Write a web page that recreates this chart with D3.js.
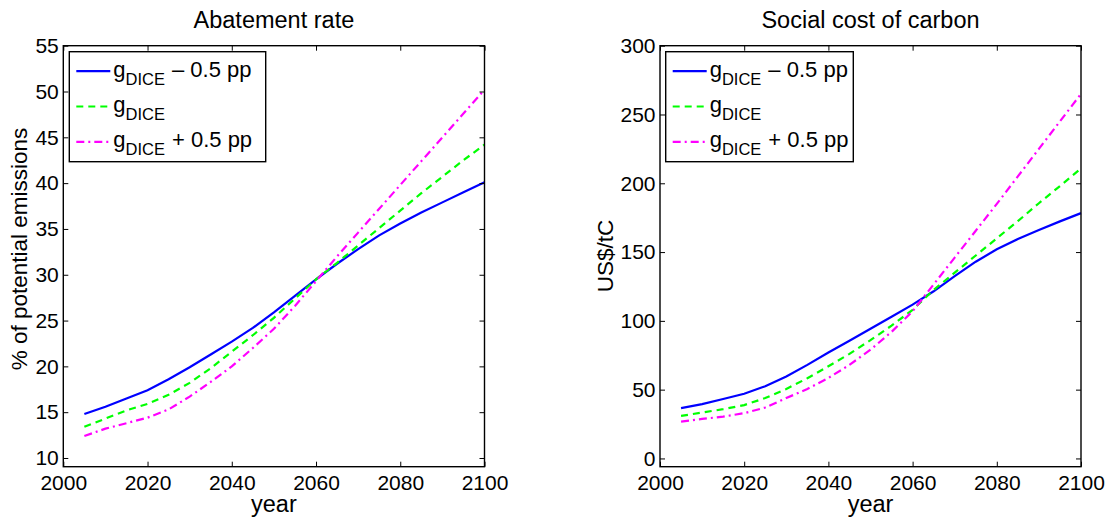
<!DOCTYPE html>
<html>
<head>
<meta charset="utf-8">
<script src="https://cdn.jsdelivr.net/npm/d3@7/dist/d3.min.js"></script>
<style>
  html, body { margin: 0; padding: 0; background: #fff; }
  svg { display: block; font-family: "Liberation Sans", Arial, Helvetica, sans-serif; }
</style>
</head>
<body>
<svg id="fig" width="1108" height="518"></svg>
<script>
// Model years (every 5 years)
const years = [2005,2010,2015,2020,2025,2030,2035,2040,2045,2050,2055,2060,2065,2070,2075,2080,2085,2090,2095,2100];

// Abatement rate, % of potential emissions
const abateLow  = [14.8,15.6,16.5,17.4,18.6,19.9,21.3,22.7,24.2,25.9,27.7,29.5,31.2,32.8,34.3,35.6,36.8,37.9,39.0,40.1];
const abateBase = [13.4,14.3,15.2,15.9,16.9,18.2,19.8,21.6,23.4,25.3,27.4,29.5,31.3,33.2,35.1,37.0,38.9,40.7,42.5,44.2];
const abateHigh = [12.4,13.2,13.8,14.4,15.3,16.7,18.3,20.0,22.0,24.1,26.6,29.3,32.0,34.6,37.2,39.8,42.4,45.0,47.6,50.2];

// Social cost of carbon, US$/tC
const sccLow  = [36.6,39.5,43.2,47.0,52.5,59.5,68.0,77.0,85.5,94.3,103.0,111.8,121.5,132.5,143.0,152.0,159.5,166.0,172.3,178.3];
const sccBase = [30.9,33.4,35.8,38.8,43.9,50.5,58.3,67.0,76.0,86.0,96.5,108.0,122.5,135.0,147.5,160.0,172.5,185.5,198.0,210.8];
const sccHigh = [26.8,28.7,30.4,32.9,37.0,43.9,50.5,58.5,68.0,79.0,92.0,107.0,126.5,146.0,165.5,185.0,205.0,225.0,245.0,265.0];

// Tick values
const yearTicks  = [2000,2020,2040,2060,2080,2100];
const abateTicks = [10,15,20,25,30,35,40,45,50,55];
const sccTicks   = [0,50,100,150,200,250,300];

// Legend entries: suffix after g_DICE
const legendSuffix = ["\u2013 0.5 pp", "", "+ 0.5 pp"];
const seriesStyle = [
  {color: "#0000ff", dash: null},
  {color: "#00ff00", dash: "7,5"},
  {color: "#ff00ff", dash: "8,4,2,4"}
];

const svg = d3.select("#fig");
svg.append("rect").attr("width", 1108).attr("height", 518).attr("fill", "#fff");

const TICK_FONT = 21, LABEL_FONT = 23.5, YLABEL_FONT = 22.5, LEGEND_FONT = 22;

function panel(opts) {
  const {left, right, top, bottom, yDomain, yTicks, series, title, ylabel, ylabelX, ylabelY, legend} = opts;
  const x = d3.scaleLinear().domain([2000, 2100]).range([left, right]);
  const y = d3.scaleLinear().domain(yDomain).range([bottom, top]);
  const g = svg.append("g");

  // series lines
  const line = d3.line().x((d, i) => x(years[i])).y(d => y(d));
  series.forEach((s, k) => {
    g.append("path")
      .attr("d", line(s))
      .attr("fill", "none")
      .attr("stroke", seriesStyle[k].color)
      .attr("stroke-width", 2.2)
      .attr("stroke-dasharray", seriesStyle[k].dash);
  });

  // axes: inward ticks on all four sides
  const ax = (gen, tr) => {
    const a = g.append("g").attr("transform", tr).call(gen);
    a.select(".domain").remove();
    a.selectAll("line").attr("stroke", "#000").attr("stroke-width", 1);
    a.selectAll("text").attr("font-size", TICK_FONT).attr("fill", "#000")
      .attr("font-family", "Liberation Sans, Arial, sans-serif");
    return a;
  };
  ax(d3.axisBottom(x).tickValues(yearTicks).tickFormat(d3.format("d")).tickSize(-5).tickPadding(8.5),
     `translate(0,${bottom})`);
  ax(d3.axisTop(x).tickValues(yearTicks).tickFormat("").tickSize(-5), `translate(0,${top})`);
  ax(d3.axisLeft(y).tickValues(yTicks).tickFormat(d3.format("d")).tickSize(-5).tickPadding(4.5),
     `translate(${left},0)`);
  ax(d3.axisRight(y).tickValues(yTicks).tickFormat("").tickSize(-5), `translate(${right},0)`);

  // frame
  g.append("rect")
    .attr("x", left).attr("y", top)
    .attr("width", right - left).attr("height", bottom - top)
    .attr("fill", "none").attr("stroke", "#000").attr("stroke-width", 1.4);

  // title and labels
  const cx = (left + right) / 2;
  g.append("text").attr("x", cx).attr("y", 28).attr("text-anchor", "middle")
    .attr("font-size", LABEL_FONT).text(title);
  g.append("text").attr("x", cx).attr("y", 512).attr("text-anchor", "middle")
    .attr("font-size", LABEL_FONT).text("year");
  g.append("text")
    .attr("transform", `translate(${ylabelX},${ylabelY}) rotate(-90)`)
    .attr("text-anchor", "middle").attr("font-size", YLABEL_FONT).text(ylabel);

  // legend
  const lg = g.append("g").attr("transform", `translate(${legend.x},${legend.y})`);
  lg.append("rect").attr("width", legend.w).attr("height", 110)
    .attr("fill", "#fff").attr("stroke", "#000").attr("stroke-width", 1.4);
  legendSuffix.forEach((suf, k) => {
    const ly = 19.5 + k * 35.3;
    lg.append("line")
      .attr("x1", 7).attr("x2", 41).attr("y1", ly).attr("y2", ly)
      .attr("stroke", seriesStyle[k].color).attr("stroke-width", 2.2)
      .attr("stroke-dasharray", seriesStyle[k].dash);
    const t = lg.append("text").attr("x", 44).attr("y", ly + 5.5).attr("font-size", LEGEND_FONT);
    t.append("tspan").text("g");
    t.append("tspan").attr("font-size", 16.5).attr("dy", 8).text("DICE");
    if (suf) t.append("tspan").attr("dy", -8).attr("dx", 7).text(suf);
  });
}

panel({
  left: 63.3, right: 484.5, top: 45.7, bottom: 466.7,
  yDomain: [9.05, 55], yTicks: abateTicks,
  series: [abateLow, abateBase, abateHigh],
  title: "Abatement rate", ylabel: "% of potential emissions", ylabelX: 27, ylabelY: 249,
  legend: {x: 69.3, y: 51.7, w: 196.4}
});

panel({
  left: 660, right: 1081, top: 45.7, bottom: 466.7,
  yDomain: [-6, 300], yTicks: sccTicks,
  series: [sccLow, sccBase, sccHigh],
  title: "Social cost of carbon", ylabel: "US$/tC", ylabelX: 613, ylabelY: 256,
  legend: {x: 665.7, y: 51.7, w: 187.6}
});
</script>
</body>
</html>
